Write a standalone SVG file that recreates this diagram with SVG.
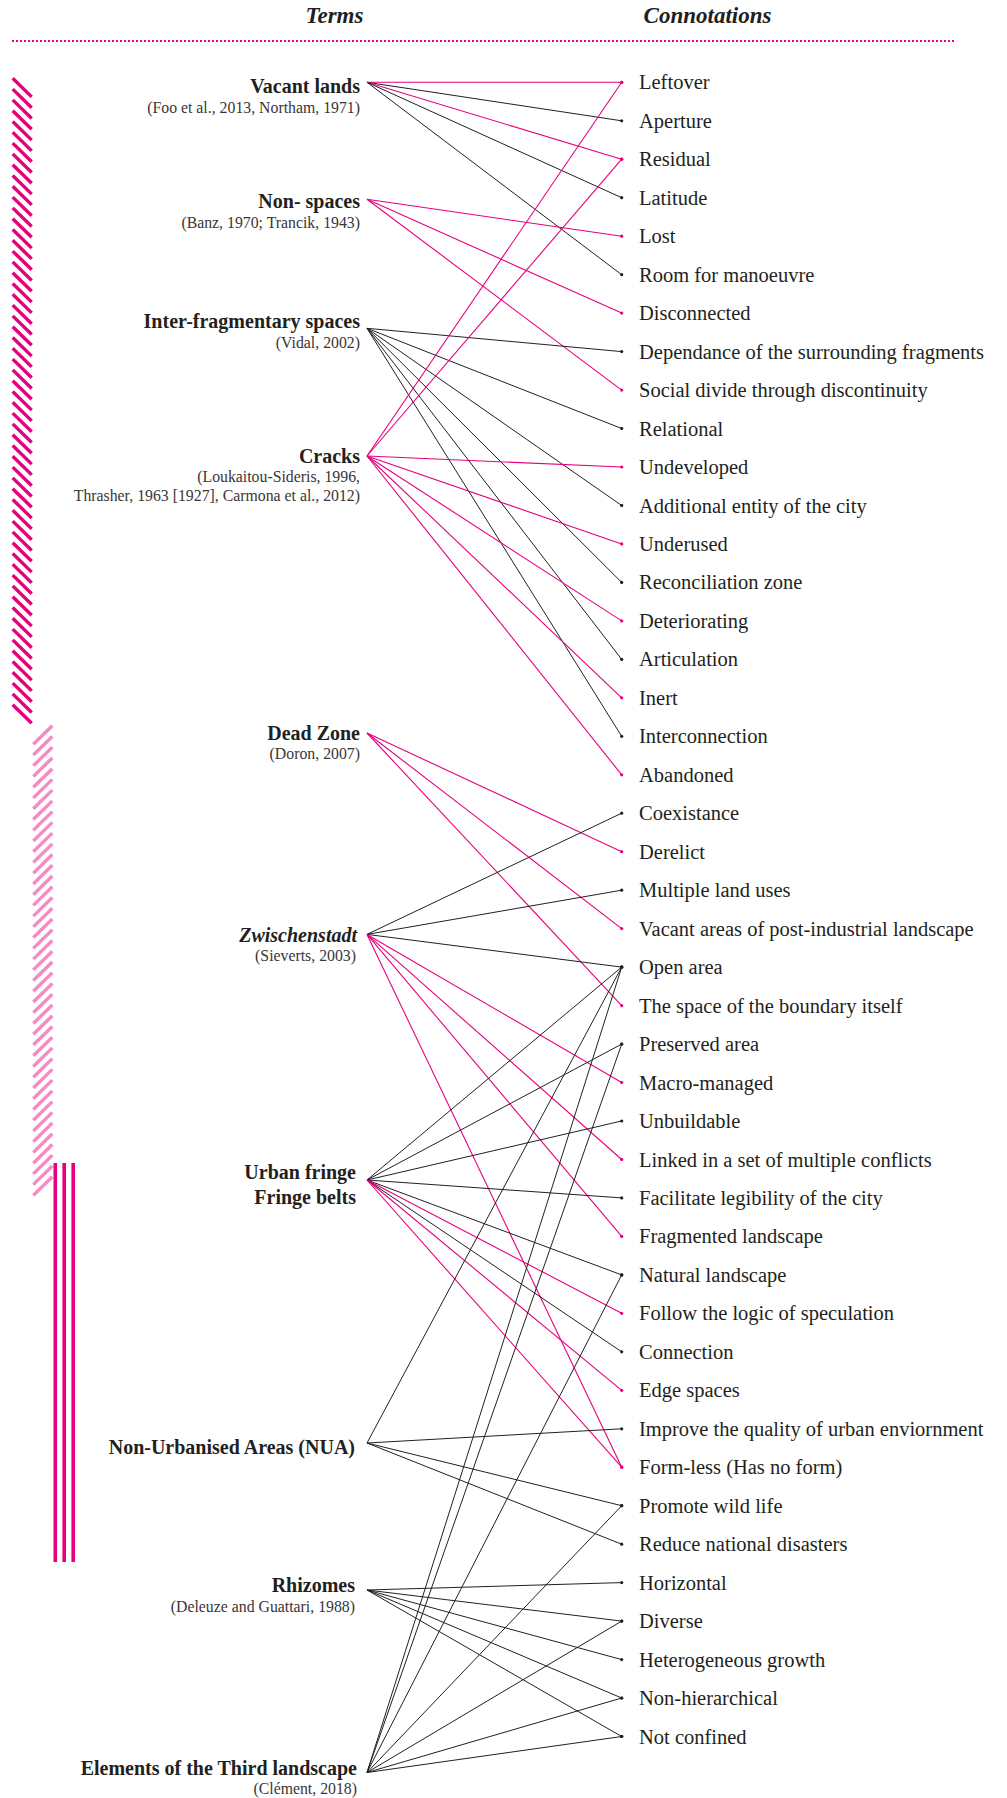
<svg xmlns="http://www.w3.org/2000/svg" width="1007" height="1798" viewBox="0 0 1007 1798">
<style>
text{font-family:"Liberation Serif","Times New Roman",serif;fill:#231f20}
.h{font-size:23px;font-weight:bold;font-style:italic;text-anchor:middle}
.t{font-size:20px;font-weight:bold;text-anchor:end}
.ti{font-size:20px;font-weight:bold;font-style:italic;text-anchor:end}
.ci{font-size:15.8px;text-anchor:end;fill:#3a3536}
.c{font-size:20.5px}
.p{stroke:#e6007e;stroke-width:1.1;fill:none;marker-end:url(#dp)}
.b{stroke:#231f20;stroke-width:1;fill:none;marker-end:url(#db)}
</style>
<defs>
<marker id="dp" viewBox="-2 -2 4 4" markerWidth="4" markerHeight="4" markerUnits="userSpaceOnUse" refX="0" refY="0"><circle r="1.6" fill="#e6007e"/></marker>
<marker id="db" viewBox="-2 -2 4 4" markerWidth="4" markerHeight="4" markerUnits="userSpaceOnUse" refX="0" refY="0"><circle r="1.6" fill="#231f20"/></marker>
</defs>
<rect width="1007" height="1798" fill="#ffffff"/>

<g id="header">
<text class="h" x="334.5" y="23">Terms</text>
<text class="h" x="707.5" y="23">Connotations</text>
<line x1="12" y1="41" x2="955" y2="41" stroke="#e6007e" stroke-width="2" stroke-dasharray="2 2"/>
</g>

<g id="bars">
<path id="bar-dark" fill="none" stroke="#e5007e" stroke-width="3.4" d="M12.7,78.3l19,18.6
m-19,-7.8l19,18.6m-19,-7.8l19,18.6m-19,-7.8l19,18.6m-19,-7.8l19,18.6m-19,-7.8l19,18.6m-19,-7.8l19,18.6m-19,-7.8l19,18.6m-19,-7.8l19,18.6m-19,-7.8l19,18.6m-19,-7.8l19,18.6
m-19,-7.8l19,18.6m-19,-7.8l19,18.6m-19,-7.8l19,18.6m-19,-7.8l19,18.6m-19,-7.8l19,18.6m-19,-7.8l19,18.6m-19,-7.8l19,18.6m-19,-7.8l19,18.6m-19,-7.8l19,18.6m-19,-7.8l19,18.6
m-19,-7.8l19,18.6m-19,-7.8l19,18.6m-19,-7.8l19,18.6m-19,-7.8l19,18.6m-19,-7.8l19,18.6m-19,-7.8l19,18.6m-19,-7.8l19,18.6m-19,-7.8l19,18.6m-19,-7.8l19,18.6m-19,-7.8l19,18.6
m-19,-7.8l19,18.6m-19,-7.8l19,18.6m-19,-7.8l19,18.6m-19,-7.8l19,18.6m-19,-7.8l19,18.6m-19,-7.8l19,18.6m-19,-7.8l19,18.6m-19,-7.8l19,18.6m-19,-7.8l19,18.6m-19,-7.8l19,18.6
m-19,-7.8l19,18.6m-19,-7.8l19,18.6m-19,-7.8l19,18.6m-19,-7.8l19,18.6m-19,-7.8l19,18.6m-19,-7.8l19,18.6m-19,-7.8l19,18.6m-19,-7.8l19,18.6m-19,-7.8l19,18.6m-19,-7.8l19,18.6
m-19,-7.8l19,18.6m-19,-7.8l19,18.6m-19,-7.8l19,18.6m-19,-7.8l19,18.6m-19,-7.8l19,18.6m-19,-7.8l19,18.6m-19,-7.8l19,18.6m-19,-7.8l19,18.6"/>
<path id="bar-light" fill="none" stroke="#f58bc5" stroke-width="3.4" d="M33.3,744.3l19,-18.6m-19,29.34l19,-18.6m-19,29.34l19,-18.6m-19,29.34l19,-18.6m-19,29.34l19,-18.6m-19,29.34l19,-18.6m-19,29.34l19,-18.6m-19,29.34l19,-18.6m-19,29.34l19,-18.6m-19,29.34l19,-18.6m-19,29.34l19,-18.6m-19,29.34l19,-18.6m-19,29.34l19,-18.6m-19,29.34l19,-18.6m-19,29.34l19,-18.6m-19,29.34l19,-18.6m-19,29.34l19,-18.6m-19,29.34l19,-18.6m-19,29.34l19,-18.6m-19,29.34l19,-18.6m-19,29.34l19,-18.6m-19,29.34l19,-18.6m-19,29.34l19,-18.6m-19,29.34l19,-18.6m-19,29.34l19,-18.6m-19,29.34l19,-18.6m-19,29.34l19,-18.6m-19,29.34l19,-18.6m-19,29.34l19,-18.6m-19,29.34l19,-18.6m-19,29.34l19,-18.6m-19,29.34l19,-18.6m-19,29.34l19,-18.6m-19,29.34l19,-18.6m-19,29.34l19,-18.6m-19,29.34l19,-18.6m-19,29.34l19,-18.6m-19,29.34l19,-18.6m-19,29.34l19,-18.6m-19,29.34l19,-18.6m-19,29.34l19,-18.6m-19,29.34l19,-18.6m-19,29.34l19,-18.6"/>
<g id="bar-lines" stroke="#e6007e" stroke-width="3.6">
<line x1="55.3" y1="1163" x2="55.3" y2="1562"/>
<line x1="64.2" y1="1163" x2="64.2" y2="1562"/>
<line x1="73.2" y1="1163" x2="73.2" y2="1562"/>
</g>
</g>

<g id="connectors">
<line class="p" x1="367" y1="82.3" x2="621.7" y2="82.3"/>
<line class="b" x1="367" y1="82.3" x2="621.7" y2="120.8"/>
<line class="p" x1="367" y1="82.3" x2="621.7" y2="159.2"/>
<line class="b" x1="367" y1="82.3" x2="621.7" y2="197.7"/>
<line class="b" x1="367" y1="82.3" x2="621.7" y2="274.7"/>

<line class="p" x1="367" y1="199.3" x2="621.7" y2="236.2"/>
<line class="p" x1="367" y1="199.3" x2="621.7" y2="313.1"/>
<line class="p" x1="367" y1="199.3" x2="621.7" y2="390.1"/>

<line class="b" x1="367" y1="328.3" x2="621.7" y2="351.6"/>
<line class="b" x1="367" y1="328.3" x2="621.7" y2="428.5"/>
<line class="b" x1="367" y1="328.3" x2="621.7" y2="505.5"/>
<line class="b" x1="367" y1="328.3" x2="621.7" y2="582.4"/>
<line class="b" x1="367" y1="328.3" x2="621.7" y2="659.4"/>
<line class="b" x1="367" y1="328.3" x2="621.7" y2="736.3"/>

<line class="p" x1="367" y1="456" x2="621.7" y2="82.3"/>
<line class="p" x1="367" y1="456" x2="621.7" y2="159.2"/>
<line class="p" x1="367" y1="456" x2="621.7" y2="467"/>
<line class="p" x1="367" y1="456" x2="621.7" y2="543.9"/>
<line class="p" x1="367" y1="456" x2="621.7" y2="620.9"/>
<line class="p" x1="367" y1="456" x2="621.7" y2="697.8"/>
<line class="p" x1="367" y1="456" x2="621.7" y2="774.8"/>

<line class="p" x1="367" y1="733" x2="621.7" y2="851.7"/>
<line class="p" x1="367" y1="733" x2="621.7" y2="928.6"/>
<line class="p" x1="367" y1="733" x2="621.7" y2="1005.6"/>

<line class="b" x1="367" y1="934.4" x2="621.7" y2="813.2"/>
<line class="b" x1="367" y1="934.4" x2="621.7" y2="890.2"/>
<line class="b" x1="367" y1="934.4" x2="621.7" y2="967.1"/>
<line class="p" x1="367" y1="934.4" x2="621.7" y2="1082.5"/>
<line class="p" x1="367" y1="934.4" x2="621.7" y2="1159.5"/>
<line class="p" x1="367" y1="934.4" x2="621.7" y2="1236.4"/>
<line class="p" x1="367" y1="934.4" x2="621.7" y2="1467.2"/>

<line class="b" x1="367" y1="1180" x2="621.7" y2="967.1"/>
<line class="b" x1="367" y1="1180" x2="621.7" y2="1044.1"/>
<line class="b" x1="367" y1="1180" x2="621.7" y2="1121"/>
<line class="b" x1="367" y1="1180" x2="621.7" y2="1197.9"/>
<line class="b" x1="367" y1="1180" x2="621.7" y2="1274.9"/>
<line class="p" x1="367" y1="1180" x2="621.7" y2="1313.3"/>
<line class="b" x1="367" y1="1180" x2="621.7" y2="1351.8"/>
<line class="p" x1="367" y1="1180" x2="621.7" y2="1390.3"/>
<line class="p" x1="367" y1="1180" x2="621.7" y2="1467.2"/>

<line class="b" x1="367" y1="1443" x2="621.7" y2="967.1"/>
<line class="b" x1="367" y1="1443" x2="621.7" y2="1428.8"/>
<line class="b" x1="367" y1="1443" x2="621.7" y2="1505.7"/>
<line class="b" x1="367" y1="1443" x2="621.7" y2="1544.2"/>

<line class="b" x1="367" y1="1590" x2="621.7" y2="1582.6"/>
<line class="b" x1="367" y1="1590" x2="621.7" y2="1621.1"/>
<line class="b" x1="367" y1="1590" x2="621.7" y2="1659.6"/>
<line class="b" x1="367" y1="1590" x2="621.7" y2="1698"/>
<line class="b" x1="367" y1="1590" x2="621.7" y2="1736.5"/>

<line class="b" x1="367" y1="1772.5" x2="621.7" y2="967.1"/>
<line class="b" x1="367" y1="1772.5" x2="621.7" y2="1044.1"/>
<line class="b" x1="367" y1="1772.5" x2="621.7" y2="1274.9"/>
<line class="b" x1="367" y1="1772.5" x2="621.7" y2="1505.7"/>
<line class="b" x1="367" y1="1772.5" x2="621.7" y2="1621.1"/>
<line class="b" x1="367" y1="1772.5" x2="621.7" y2="1698"/>
<line class="b" x1="367" y1="1772.5" x2="621.7" y2="1736.5"/>
</g>

<g id="terms">
<g id="t-vacant"><text class="t" x="360" y="93">Vacant lands</text><text class="ci" x="360" y="112.7">(Foo et al., 2013, Northam, 1971)</text></g>
<g id="t-nonspaces"><text class="t" x="360" y="208.3">Non- spaces</text><text class="ci" x="360" y="228.3">(Banz, 1970; Trancik, 1943)</text></g>
<g id="t-interfrag"><text class="t" x="360" y="328">Inter-fragmentary spaces</text><text class="ci" x="360" y="348.3">(Vidal, 2002)</text></g>
<g id="t-cracks"><text class="t" x="360" y="462.7">Cracks</text><text class="ci" x="360" y="481.7">(Loukaitou-Sideris, 1996,</text><text class="ci" x="360" y="500.7">Thrasher, 1963 [1927], Carmona et al., 2012)</text></g>
<g id="t-deadzone"><text class="t" x="360" y="740">Dead Zone</text><text class="ci" x="360" y="759.3">(Doron, 2007)</text></g>
<g id="t-zwischen"><text class="ti" x="357" y="941.7">Zwischenstadt</text><text class="ci" x="356" y="960.7">(Sieverts, 2003)</text></g>
<g id="t-urbanfringe"><text class="t" x="356" y="1179">Urban fringe</text><text class="t" x="356" y="1203.7">Fringe belts</text></g>
<g id="t-nua"><text class="t" x="355" y="1453.7">Non-Urbanised Areas (NUA)</text></g>
<g id="t-rhizomes"><text class="t" x="355" y="1592">Rhizomes</text><text class="ci" x="355" y="1612">(Deleuze and Guattari, 1988)</text></g>
<g id="t-third"><text class="t" x="357" y="1774.8">Elements of the Third landscape</text><text class="ci" x="357" y="1793.8">(Clément, 2018)</text></g>
</g>

<g id="connotations">
<text id="c0" class="c" x="639" y="89.3">Leftover</text>
<text id="c1" class="c" x="639" y="127.8">Aperture</text>
<text id="c2" class="c" x="639" y="166.2">Residual</text>
<text id="c3" class="c" x="639" y="204.7">Latitude</text>
<text id="c4" class="c" x="639" y="243.2">Lost</text>
<text id="c5" class="c" x="639" y="281.7">Room for manoeuvre</text>
<text id="c6" class="c" x="639" y="320.1">Disconnected</text>
<text id="c7" class="c" x="639" y="358.6">Dependance of the surrounding fragments</text>
<text id="c8" class="c" x="639" y="397.1">Social divide through discontinuity</text>
<text id="c9" class="c" x="639" y="435.5">Relational</text>
<text id="c10" class="c" x="639" y="474">Undeveloped</text>
<text id="c11" class="c" x="639" y="512.5">Additional entity of the city</text>
<text id="c12" class="c" x="639" y="550.9">Underused</text>
<text id="c13" class="c" x="639" y="589.4">Reconciliation zone</text>
<text id="c14" class="c" x="639" y="627.9">Deteriorating</text>
<text id="c15" class="c" x="639" y="666.4">Articulation</text>
<text id="c16" class="c" x="639" y="704.8">Inert</text>
<text id="c17" class="c" x="639" y="743.3">Interconnection</text>
<text id="c18" class="c" x="639" y="781.8">Abandoned</text>
<text id="c19" class="c" x="639" y="820.2">Coexistance</text>
<text id="c20" class="c" x="639" y="858.7">Derelict</text>
<text id="c21" class="c" x="639" y="897.2">Multiple land uses</text>
<text id="c22" class="c" x="639" y="935.6">Vacant areas of post-industrial landscape</text>
<text id="c23" class="c" x="639" y="974.1">Open area</text>
<text id="c24" class="c" x="639" y="1012.6">The space of the boundary itself</text>
<text id="c25" class="c" x="639" y="1051.1">Preserved area</text>
<text id="c26" class="c" x="639" y="1089.5">Macro-managed</text>
<text id="c27" class="c" x="639" y="1128">Unbuildable</text>
<text id="c28" class="c" x="639" y="1166.5">Linked in a set of multiple conflicts</text>
<text id="c29" class="c" x="639" y="1204.9">Facilitate legibility of the city</text>
<text id="c30" class="c" x="639" y="1243.4">Fragmented landscape</text>
<text id="c31" class="c" x="639" y="1281.9">Natural landscape</text>
<text id="c32" class="c" x="639" y="1320.3">Follow the logic of speculation</text>
<text id="c33" class="c" x="639" y="1358.8">Connection</text>
<text id="c34" class="c" x="639" y="1397.3">Edge spaces</text>
<text id="c35" class="c" x="639" y="1435.8">Improve the quality of urban enviornment</text>
<text id="c36" class="c" x="639" y="1474.2">Form-less (Has no form)</text>
<text id="c37" class="c" x="639" y="1512.7">Promote wild life</text>
<text id="c38" class="c" x="639" y="1551.2">Reduce national disasters</text>
<text id="c39" class="c" x="639" y="1589.6">Horizontal</text>
<text id="c40" class="c" x="639" y="1628.1">Diverse</text>
<text id="c41" class="c" x="639" y="1666.6">Heterogeneous growth</text>
<text id="c42" class="c" x="639" y="1705">Non-hierarchical</text>
<text id="c43" class="c" x="639" y="1743.5">Not confined</text>
</g>
</svg>
